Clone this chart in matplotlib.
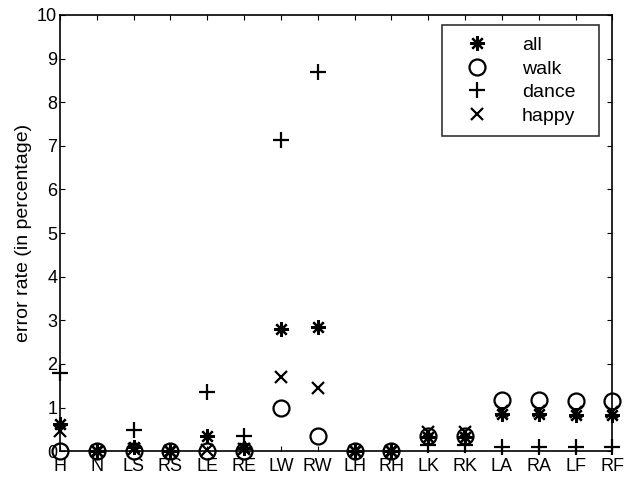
import matplotlib
matplotlib.use('Agg')
import matplotlib.pyplot as plt
import numpy as np

plt.rcParams['font.family'] = ['Liberation Sans', 'DejaVu Sans']

# joints and error rates (percent)
joints = ['H', 'N', 'LS', 'RS', 'LE', 'RE', 'LW', 'RW',
          'LH', 'RH', 'LK', 'RK', 'LA', 'RA', 'LF', 'RF']
err_all = [0.62, 0, 0.1, 0, 0.35, 0.08, 2.8, 2.85, 0, 0, 0.33, 0.32, 0.84, 0.85, 0.82, 0.82]
err_walk = [0, 0, 0, 0, 0, 0, 1.0, 0.35, 0, 0, 0.35, 0.35, 1.18, 1.18, 1.15, 1.15]
err_dance = [1.78, 0, 0.48, 0, 1.35, 0.35, 7.14, 8.7, 0, 0, 0.15, 0.15, 0.1, 0.1, 0.1, 0.1]
err_happy = [0.46, 0, 0.05, 0, 0.02, 0.05, 1.7, 1.45, 0, 0, 0.44, 0.44, 0.92, 0.92, 0.9, 0.9]

x = np.arange(1, len(joints) + 1)

fig = plt.figure(figsize=(6.27, 4.83), dpi=100)
ax = fig.add_axes([0.0957, 0.066, 0.881, 0.903])

ax.plot(x, err_all, ls='none', marker=(8, 2, 0), ms=10.5, mew=1.6, color='k', label='all', clip_on=False)
ax.plot(x, err_walk, ls='none', marker='o', ms=11.5, mew=1.6, mfc='none', color='k', label='walk', clip_on=False)
ax.plot(x, err_dance, ls='none', marker='+', ms=12, mew=1.6, color='k', label='dance', clip_on=False)
ax.plot(x, err_happy, ls='none', marker='x', ms=8, mew=1.6, color='k', label='happy', clip_on=False)

ax.set_xlim(1, 16)
ax.set_ylim(0, 10)
ax.set_xticks(x)
ax.set_xticklabels(joints)
ax.set_yticks(range(0, 11))
ax.tick_params(direction='in', top=True, right=True, labelsize=13, length=3.5, pad=2)
ax.tick_params(axis='x', pad=5)
ax.set_ylabel('error rate (in percentage)', fontsize=14, labelpad=4)
for s in ax.spines.values():
    s.set_linewidth(1.2)

leg = ax.legend(loc='upper right', bbox_to_anchor=(0.692, 0.5, 0.284, 0.477), mode='expand',
                fontsize=14, frameon=True, fancybox=False, edgecolor='k', handlelength=2.4,
                handletextpad=1.1, borderpad=0.6, labelspacing=0.3, borderaxespad=0)
leg.get_frame().set_linewidth(1.2)

fig.savefig('out.png', dpi=100)
